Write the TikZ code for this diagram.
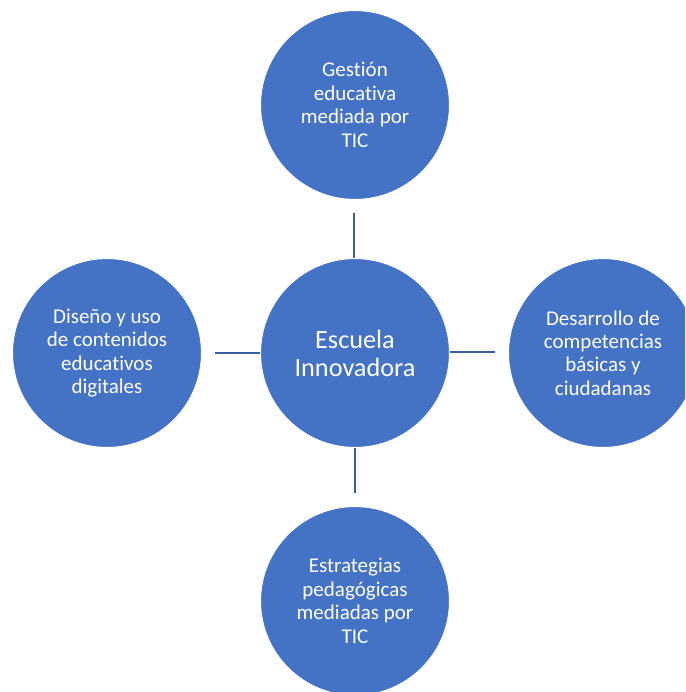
\documentclass[tikz,border=0pt]{standalone}
\usepackage{fontspec}
\setmainfont{Carlito}[Ligatures={NoCommon}]
\definecolor{circfill}{HTML}{4472C4}
\definecolor{linkcol}{HTML}{3A5F9F}
\begin{document}
\begin{tikzpicture}[x=0.75pt,y=-0.75pt,
  bubble/.style={circle,fill=circfill,draw=white,line width=0.8pt,minimum size=189*0.75pt,inner sep=0pt,
    text=white,align=center,font=\fontsize{15.75pt}{17.6pt}\selectfont},
  hub/.style={bubble,font=\fontsize{19.7pt}{21pt}\selectfont},
  link/.style={draw=linkcol,line width=1.3pt}]
\useasboundingbox (0,0) rectangle (685,692);
\clip (0,0) rectangle (685,692);
\node[hub] (c) at (355,353) {Escuela\\Innovadora};
\node[bubble] (t) at (355,105) {Gestión\\educativa\\mediada por\\TIC};
\node[bubble] (l) at (107,353) {Diseño y uso\\de contenidos\\educativos\\digitales};
\node[bubble] (r) at (603,353) {Desarrollo de\\competencias\\básicas y\\ciudadanas};
\node[bubble] (b) at (355,601) {Estrategias\\pedagógicas\\mediadas por\\TIC};
\coordinate (t1) at (354,213); \coordinate (t2) at (354,258);
\coordinate (b1) at (355,448); \coordinate (b2) at (355,493);
\coordinate (l1) at (215,353); \coordinate (l2) at (260,353);
\coordinate (r1) at (450,352); \coordinate (r2) at (495,352);
\draw[link] (t1) -- (t2);
\draw[link] (b1) -- (b2);
\draw[link] (l1) -- (l2);
\draw[link] (r1) -- (r2);
\end{tikzpicture}
\end{document}
